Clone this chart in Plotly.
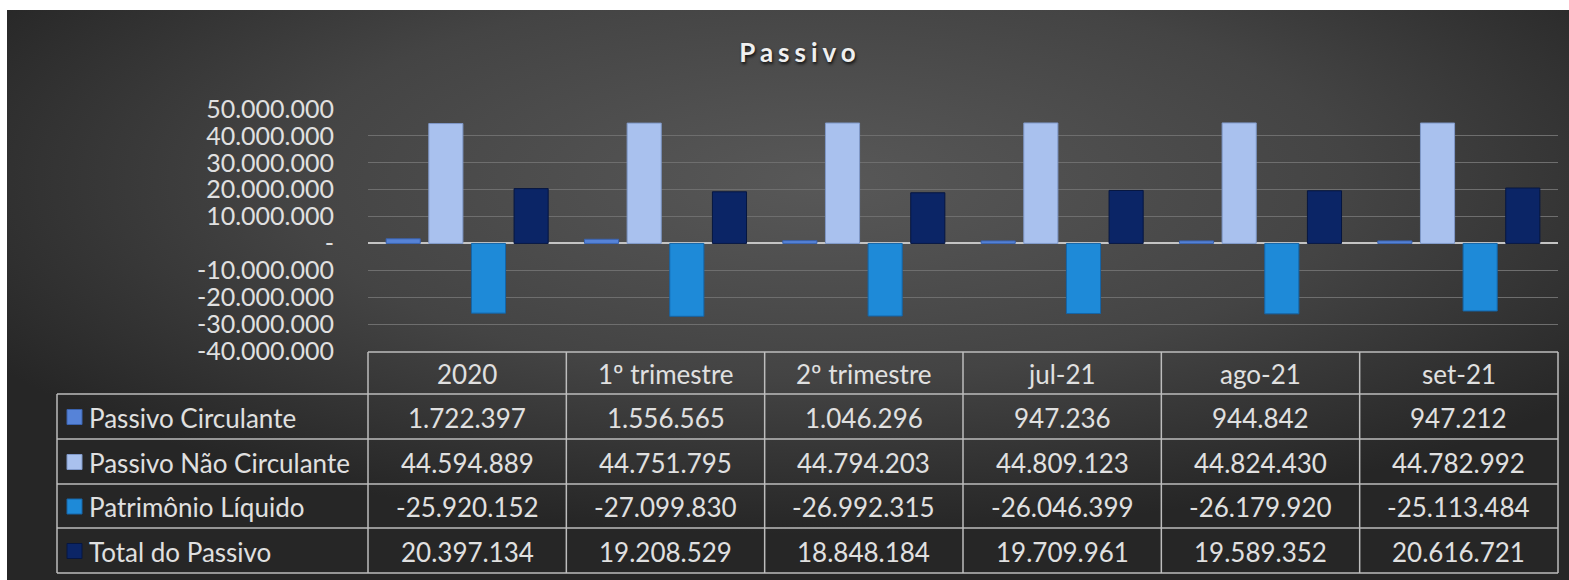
import base64

import plotly.graph_objects as go

W, H = 1569, 580

periods = ["2020", "1º trimestre", "2º trimestre", "jul-21", "ago-21", "set-21"]
passivo_circulante = [1722397, 1556565, 1046296, 947236, 944842, 947212]
passivo_nao_circulante = [44594889, 44751795, 44794203, 44809123, 44824430, 44782992]
patrimonio_liquido = [-25920152, -27099830, -26992315, -26046399, -26179920, -25113484]
total_passivo = [20397134, 19208529, 18848184, 19709961, 19589352, 20616721]

series_names = ["Passivo Circulante", "Passivo Não Circulante", "Patrimônio Líquido", "Total do Passivo"]
series_colors = ["#5683d8", "#a9c1ee", "#1e8ad8", "#0b2566"]
series_edges = ["#3a62ae", "#7f98c8", "#1465a8", "#061640"]

y_ticks = [50e6, 40e6, 30e6, 20e6, 10e6, 0, -10e6, -20e6, -30e6, -40e6]

FONT = "Lato, 'Noto Sans', sans-serif"
TXT = "#e0e0e0"
GRID = "#6e6e6e"
TABLE_LINE = "#bdbdbd"

# table geometry (pixels)
TBL_LEFT, COL0_RIGHT, TBL_RIGHT = 57, 368, 1558
HEADER_TOP = 352
ROW_EDGES = [394, 439, 484, 528, 573]


def fmt_br(v):
    if v == 0:
        return "-"
    s = f"{abs(int(v)):,}".replace(",", ".")
    return "-" + s if v < 0 else s


def px_x(px):
    return px / W


def px_y(px):
    return 1 - px / H


# dark radial background, like the Excel chart style
svg = (
    '<svg xmlns="http://www.w3.org/2000/svg" viewBox="0 0 1562 570" width="1562" height="570" '
    'preserveAspectRatio="none">'
    '<defs><radialGradient id="g" cx="0.52" cy="0.3" r="0.62">'
    '<stop offset="0" stop-color="#585858"/><stop offset="0.55" stop-color="#444444"/>'
    '<stop offset="1" stop-color="#262626"/></radialGradient></defs>'
    '<rect width="1562" height="570" fill="url(#g)"/></svg>'
)
bg_uri = "data:image/svg+xml;base64," + base64.b64encode(svg.encode()).decode()

fig = go.Figure()

all_series = [passivo_circulante, passivo_nao_circulante, patrimonio_liquido, total_passivo]
for name, vals, col, edge in zip(series_names, all_series, series_colors, series_edges):
    fig.add_trace(
        go.Bar(
            x=periods,
            y=vals,
            name=name,
            marker=dict(color=col, line=dict(color=edge, width=1)),
            showlegend=False,
        )
    )

# data table drawn with lines + annotations
shapes = []
line = dict(color=TABLE_LINE, width=1.5)
col_w = (TBL_RIGHT - COL0_RIGHT) / len(periods)
col_edges = [COL0_RIGHT + i * col_w for i in range(len(periods) + 1)]
shapes.append(dict(type="line", xref="paper", yref="paper", x0=px_x(COL0_RIGHT), x1=px_x(TBL_RIGHT),
                   y0=px_y(HEADER_TOP), y1=px_y(HEADER_TOP), line=line))
for ry in ROW_EDGES:
    shapes.append(dict(type="line", xref="paper", yref="paper", x0=px_x(TBL_LEFT), x1=px_x(TBL_RIGHT),
                       y0=px_y(ry), y1=px_y(ry), line=line))
shapes.append(dict(type="line", xref="paper", yref="paper", x0=px_x(TBL_LEFT), x1=px_x(TBL_LEFT),
                   y0=px_y(ROW_EDGES[0]), y1=px_y(ROW_EDGES[-1]), line=line))
for cx in col_edges:
    shapes.append(dict(type="line", xref="paper", yref="paper", x0=px_x(cx), x1=px_x(cx),
                       y0=px_y(HEADER_TOP), y1=px_y(ROW_EDGES[-1]), line=line))

annotations = []
cell_font = dict(family=FONT, size=26, color=TXT)
header_mid = (HEADER_TOP + ROW_EDGES[0]) / 2
for i, p in enumerate(periods):
    annotations.append(dict(text=p, xref="paper", yref="paper",
                            x=px_x(col_edges[i] + col_w / 2), y=px_y(header_mid + 1),
                            showarrow=False, font=cell_font, xanchor="center", yanchor="middle"))
for r, (name, vals, col, edge) in enumerate(zip(series_names, all_series, series_colors, series_edges)):
    mid = (ROW_EDGES[r] + ROW_EDGES[r + 1]) / 2 + 1
    # legend key square
    shapes.append(dict(type="rect", xref="paper", yref="paper",
                       x0=px_x(67), x1=px_x(82), y0=px_y(mid - 8), y1=px_y(mid + 7),
                       fillcolor=col, line=dict(color=edge, width=1)))
    annotations.append(dict(text=name, xref="paper", yref="paper", x=px_x(87), y=px_y(mid),
                            showarrow=False, font=cell_font, xanchor="left", yanchor="middle"))
    for i, v in enumerate(vals):
        annotations.append(dict(text=fmt_br(v), xref="paper", yref="paper",
                                x=px_x(col_edges[i] + col_w / 2), y=px_y(mid),
                                showarrow=False, font=cell_font, xanchor="center", yanchor="middle"))

fig.update_layout(
    width=W,
    height=H,
    margin=dict(l=0, r=0, t=0, b=0, autoexpand=False),
    paper_bgcolor="white",
    plot_bgcolor="rgba(0,0,0,0)",
    barmode="group",
    bargap=0.14,
    bargroupgap=0.2,
    font=dict(family=FONT, color=TXT),
    title=dict(
        text="<b><span style='letter-spacing:5px'>Passivo</span></b>",
        x=px_x(800),
        xanchor="center",
        y=px_y(53),
        yanchor="middle",
        font=dict(family=FONT, size=26, color="#f0f0f0", shadow="1px 2px 3px #111"),
    ),
    xaxis=dict(
        domain=[px_x(COL0_RIGHT), px_x(TBL_RIGHT)],
        showticklabels=False,
        showgrid=False,
        zeroline=False,
        fixedrange=True,
        automargin=False,
    ),
    yaxis=dict(
        domain=[px_y(351), px_y(109)],
        range=[-40e6, 50e6],
        tickvals=y_ticks,
        ticktext=[fmt_br(v) for v in y_ticks],
        tickfont=dict(family=FONT, size=25, color=TXT),
        ticklabelstandoff=33,
        showgrid=True,
        gridcolor=GRID,
        gridwidth=1,
        zeroline=True,
        zerolinecolor="#c4c4c4",
        zerolinewidth=2,
        showline=False,
        ticks="",
        automargin=False,
    ),
    shapes=shapes,
    annotations=annotations,
    images=[
        dict(
            source=bg_uri,
            xref="paper",
            yref="paper",
            x=px_x(7),
            y=px_y(10),
            sizex=1 - px_x(7),
            sizey=px_y(10),
            xanchor="left",
            yanchor="top",
            sizing="stretch",
            layer="below",
        )
    ],
)

fig.write_html(
    "out.html",
    config={"displayModeBar": False},
    post_script="document.body.style.margin='0';",
)
